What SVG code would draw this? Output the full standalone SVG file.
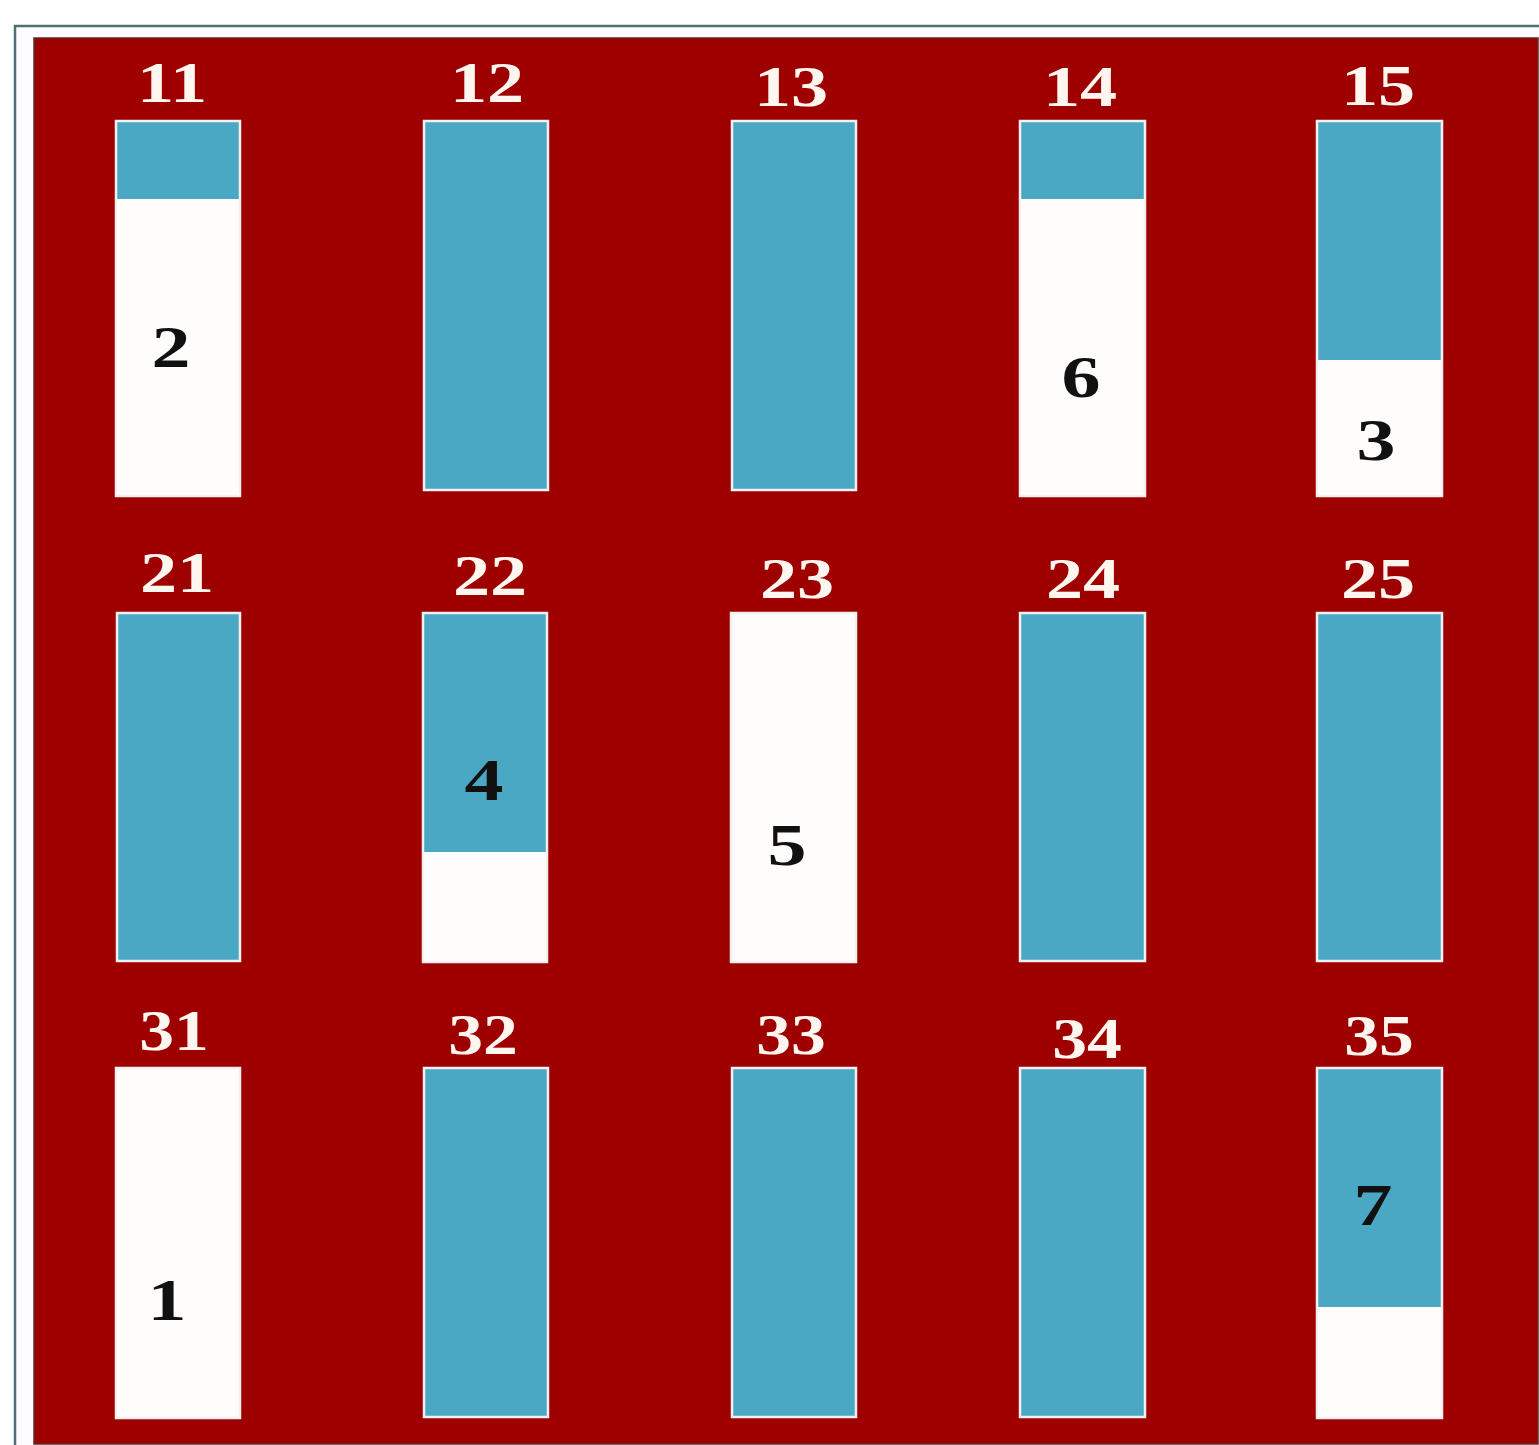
<svg xmlns="http://www.w3.org/2000/svg" width="1539" height="1445" viewBox="0 0 1539 1445">
<style>
.lbl{font-family:"Liberation Serif","Times New Roman",serif;font-weight:bold;font-size:58px;fill:#fff6f0;text-anchor:middle}
.num{font-family:"Liberation Serif","Times New Roman",serif;font-weight:bold;font-size:60px;fill:#111;text-anchor:middle}
.blue{fill:#4ba8c5}
.white{fill:#fffcfc}
.frame{fill:none;stroke:#f4f0f0;stroke-width:2.5}
</style>
<rect x="0" y="0" width="1539" height="1445" fill="#ffffff"/>
<rect x="15" y="26" width="1530" height="1430" fill="#fdfcfe" stroke="#4f6f73" stroke-width="2.5"/>
<rect x="34" y="38" width="1504" height="1406" fill="#9e0000" stroke="#5a2a2a" stroke-width="1.5"/>
<g id="nodes">
<g id="n11"><text class="lbl" transform="translate(172 102) scale(1.28 1)">11</text><rect class="white" x="116" y="121" width="124" height="375"/><rect class="blue" x="116" y="121" width="124" height="78"/><rect class="frame" x="116" y="121" width="124" height="375"/><text class="num" transform="translate(171 367) scale(1.3 1)">2</text></g>
<g id="n12"><text class="lbl" transform="translate(487 102) scale(1.28 1)">12</text><rect class="blue" x="424" y="121" width="124" height="369"/><rect class="frame" x="424" y="121" width="124" height="369"/></g>
<g id="n13"><text class="lbl" transform="translate(791 106) scale(1.28 1)">13</text><rect class="blue" x="732" y="121" width="124" height="369"/><rect class="frame" x="732" y="121" width="124" height="369"/></g>
<g id="n14"><text class="lbl" transform="translate(1080 106) scale(1.28 1)">14</text><rect class="white" x="1020" y="121" width="125" height="375"/><rect class="blue" x="1020" y="121" width="125" height="78"/><rect class="frame" x="1020" y="121" width="125" height="375"/><text class="num" transform="translate(1081 397) scale(1.3 1)">6</text></g>
<g id="n15"><text class="lbl" transform="translate(1378 105) scale(1.28 1)">15</text><rect class="white" x="1317" y="121" width="125" height="375"/><rect class="blue" x="1317" y="121" width="125" height="239"/><rect class="frame" x="1317" y="121" width="125" height="375"/><text class="num" transform="translate(1376 460) scale(1.3 1)">3</text></g>
<g id="n21"><text class="lbl" transform="translate(177 592) scale(1.28 1)">21</text><rect class="blue" x="117" y="613" width="123" height="348"/><rect class="frame" x="117" y="613" width="123" height="348"/></g>
<g id="n22"><text class="lbl" transform="translate(490 595) scale(1.28 1)">22</text><rect class="white" x="423" y="613" width="124" height="349"/><rect class="blue" x="423" y="613" width="124" height="239"/><rect class="frame" x="423" y="613" width="124" height="349"/><text class="num" transform="translate(484 800) scale(1.3 1)">4</text></g>
<g id="n23"><text class="lbl" transform="translate(797 598) scale(1.28 1)">23</text><rect class="white" x="731" y="613" width="125" height="349"/><rect class="frame" x="731" y="613" width="125" height="349"/><text class="num" transform="translate(787 865) scale(1.3 1)">5</text></g>
<g id="n24"><text class="lbl" transform="translate(1083 598) scale(1.28 1)">24</text><rect class="blue" x="1020" y="613" width="125" height="348"/><rect class="frame" x="1020" y="613" width="125" height="348"/></g>
<g id="n25"><text class="lbl" transform="translate(1378 598) scale(1.28 1)">25</text><rect class="blue" x="1317" y="613" width="125" height="348"/><rect class="frame" x="1317" y="613" width="125" height="348"/></g>
<g id="n31"><text class="lbl" transform="translate(174 1050) scale(1.2 1)">31</text><rect class="white" x="116" y="1068" width="124" height="350"/><rect class="frame" x="116" y="1068" width="124" height="350"/><text class="num" transform="translate(167 1320) scale(1.3 1)">1</text></g>
<g id="n32"><text class="lbl" transform="translate(483 1054) scale(1.2 1)">32</text><rect class="blue" x="424" y="1068" width="124" height="349"/><rect class="frame" x="424" y="1068" width="124" height="349"/></g>
<g id="n33"><text class="lbl" transform="translate(791 1054) scale(1.2 1)">33</text><rect class="blue" x="732" y="1068" width="124" height="349"/><rect class="frame" x="732" y="1068" width="124" height="349"/></g>
<g id="n34"><text class="lbl" transform="translate(1087 1058) scale(1.2 1)">34</text><rect class="blue" x="1020" y="1068" width="125" height="349"/><rect class="frame" x="1020" y="1068" width="125" height="349"/></g>
<g id="n35"><text class="lbl" transform="translate(1379 1055) scale(1.2 1)">35</text><rect class="white" x="1317" y="1068" width="125" height="350"/><rect class="blue" x="1317" y="1068" width="125" height="239"/><rect class="frame" x="1317" y="1068" width="125" height="350"/><text class="num" transform="translate(1373 1225) scale(1.3 1)">7</text></g>
</g>
<g id="connectors"></g>
</svg>
